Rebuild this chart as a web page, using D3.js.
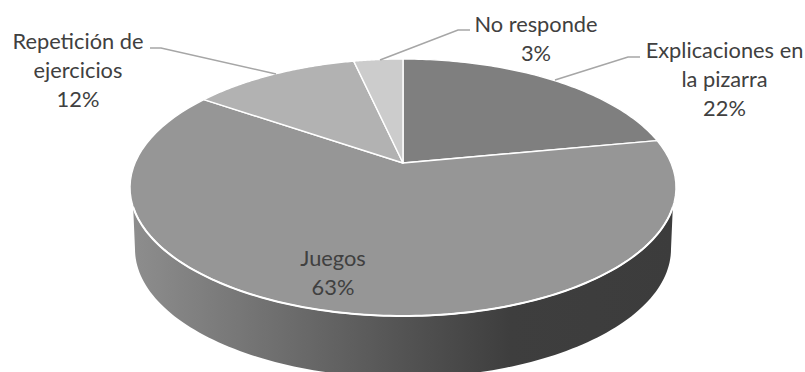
<!DOCTYPE html>
<html><head><meta charset="utf-8">
<script src="https://cdnjs.cloudflare.com/ajax/libs/d3/7.8.5/d3.min.js"></script>
<style>html,body{margin:0;padding:0;background:#fff}svg{display:block}</style>
</head><body><svg id="c" width="805" height="372"></svg>
<script>
const categories = ["Explicaciones en la pizarra","Juegos","Repetición de ejercicios","No responde"];
const values = [22,62.6,11.9,3.5];
const percentLabels = ["22%","63%","12%","3%"];
const shades = ["#7f7f7f","#969696","#b2b2b2","#cccccc"];
const labelLines = [["Explicaciones en","la pizarra"],["Juegos"],["Repetición de","ejercicios"],["No responde"]];
const labelCentres = [[724.5,58],[333,266],[78,49],[536,32]];
const leaders = [[[640,57],[628,57],[555,80]],null,[[150,48],[161,48],[276,74]],[[470,30],[458,30],[380,60]]];
const textColor = "#404040", lineColor = "#a6a6a6";

const svg = d3.select("#c");
// perspective disc: ellipse with apex displaced towards the back
const cx=403, cy=187.5, rx=273, ry=128.5, apexY=163;
const b=(apexY-cy)/ry, k=Math.sqrt(1-b*b);
function project(t){ // t clockwise from top
  const u=Math.sin(t), v=-Math.cos(t), d=1+b*v;
  return [cx+rx*u*k/d, cy+ry*(v+b)/d];
}
const pie=d3.pie().sort(null).value(d=>d);
const arcs=pie(values);
const line=d3.line();
function rimPts(a0,a1){return d3.range(0,81).map(i=>project(a0+(a1-a0)*i/80));}

// side wall
const lowerCy=249, lowerRx=268, lowerRy=128.5, t0=Math.asin((207-cy)/ry);
const grad=svg.append("defs").append("linearGradient").attr("id","side")
  .attr("gradientUnits","userSpaceOnUse").attr("x1",130).attr("x2",676).attr("y1",0).attr("y2",0);
[[0,"#8e8e8e"],[0.31,"#6a6a6a"],[0.495,"#545454"],[0.696,"#3e3e3e"],[1,"#3c3c3c"]]
  .forEach(s=>grad.append("stop").attr("offset",s[0]).attr("stop-color",s[1]));
const lower=d3.range(0,121).map(i=>{const t=Math.PI*i/120;
  return [cx+lowerRx*Math.cos(t), lowerCy+lowerRy*Math.sin(t)];});
const rimAt=t=>[cx+rx*Math.cos(t), cy+ry*Math.sin(t)];
svg.append("path").attr("d",line([rimAt(t0),...lower,rimAt(Math.PI-t0)])+"Z").attr("fill","url(#side)");

// top face slices
arcs.forEach((a,i)=>{
  const pts=[[cx,apexY],...rimPts(a.startAngle,a.endAngle)];
  svg.append("path").attr("d",line(pts)+"Z").attr("fill",shades[i])
    .attr("stroke","#fff").attr("stroke-width",1.4).attr("stroke-linejoin","round");
});
// white front rim
const front=d3.range(0,121).map(i=>rimAt(t0+(Math.PI-2*t0)*i/120));
svg.append("path").attr("d",line(front)).attr("fill","none").attr("stroke","#fff").attr("stroke-width",2);

// leaders
leaders.forEach(l=>{ if(l) svg.append("path").attr("d",line(l)).attr("fill","none")
  .attr("stroke",lineColor).attr("stroke-width",1.6);});
// labels
labelLines.forEach((ls,i)=>{
  const t=svg.append("text").attr("text-anchor","middle").attr("font-family","Lato, sans-serif")
    .attr("font-size",21.8).attr("fill",textColor);
  [...ls,percentLabels[i]].forEach((s,j)=>t.append("tspan")
    .attr("x",labelCentres[i][0]).attr("y",labelCentres[i][1]+j*(ls.length>1?29:28.5)).text(s));
});
</script></body></html>
